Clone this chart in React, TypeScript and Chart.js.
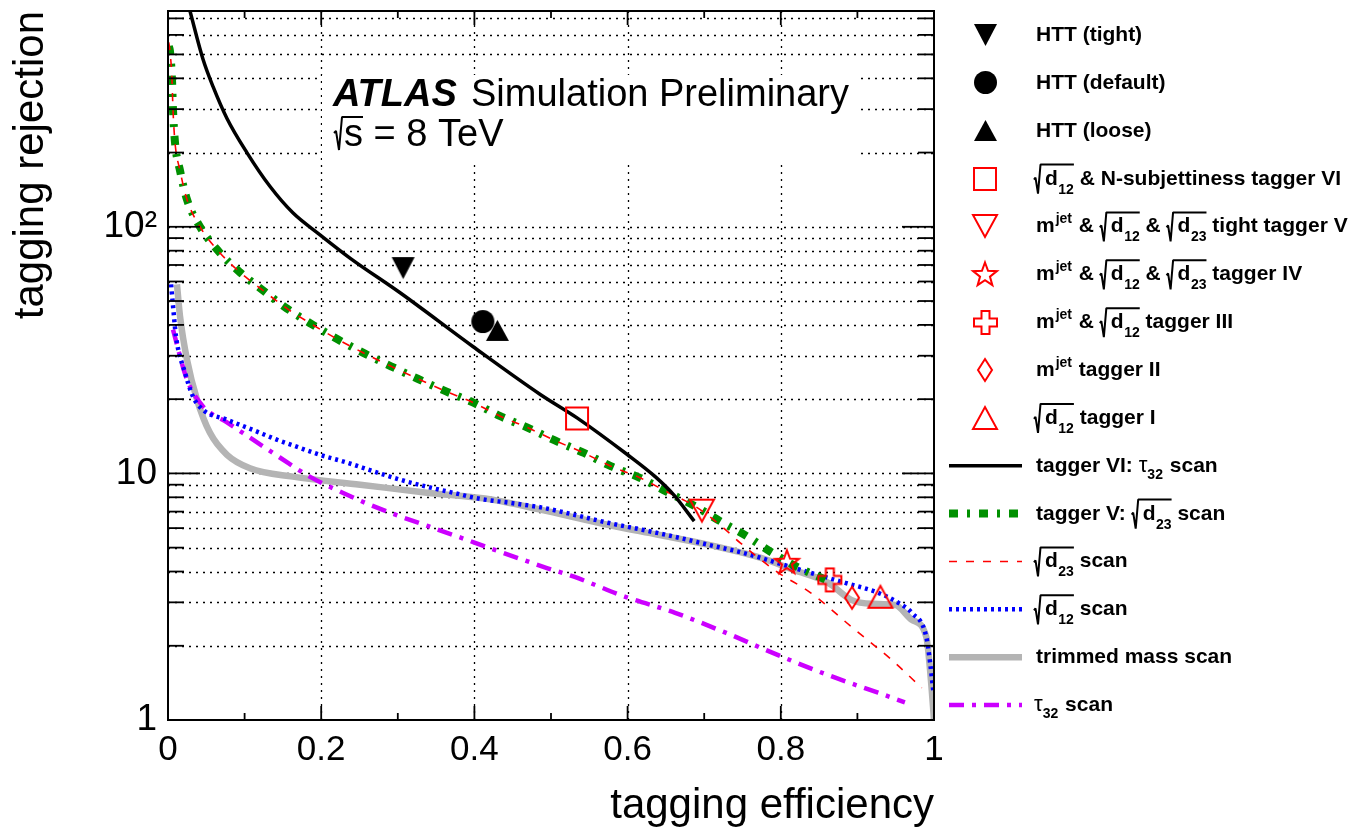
import React, { useEffect, useRef } from 'react';
import { Chart, registerables } from 'chart.js';

Chart.register(...registerables);

const FONT = '"Liberation Sans", Arial, Helvetica, sans-serif';

// ---------- axes ----------
const xMin = 0;
const xMax = 1;
const yMin = 1;
const yMax = 750;
const xTickValues = [0, 0.2, 0.4, 0.6, 0.8, 1];
const xTickLabels = ['0', '0.2', '0.4', '0.6', '0.8', '1'];
const xMinorTicks = [0.1, 0.3, 0.5, 0.7, 0.9];
const xGridValues = [0.2, 0.4, 0.6, 0.8];
const yTickValues = [1, 10, 100];
const yTickLabels = ['1', '10', '10²'];
const yMinorTicks = [2, 3, 4, 5, 6, 7, 8, 9, 20, 30, 40, 50, 60, 70, 80, 90, 200, 300, 400, 500, 600, 700];
const yGridValues = [2, 3, 4, 5, 6, 7, 8, 9, 10, 20, 30, 40, 50, 60, 70, 80, 90, 100, 200, 300, 400, 500, 600, 700];
const xTitle = 'tagging efficiency';
const yTitle = 'tagging rejection';

// ---------- working points ----------
const httTightEff = [0.307];
const httTightRej = [68];
const httDefaultEff = [0.411];
const httDefaultRej = [41.3];
const httLooseEff = [0.43];
const httLooseRej = [38];
const taggerVIEff = [0.534];
const taggerVIRej = [16.7];
const taggerVEff = [0.697];
const taggerVRej = [7.06];
const taggerIVEff = [0.808];
const taggerIVRej = [4.38];
const taggerIIIEff = [0.864];
const taggerIIIRej = [3.7];
const taggerIIEff = [0.893];
const taggerIIRej = [3.13];
const taggerIEff = [0.93];
const taggerIRej = [3.16];

// ---------- scans ----------
const tau32VIEff = [0.024, 0.0287, 0.0457, 0.0587, 0.077, 0.103, 0.133, 0.163, 0.198, 0.238, 0.303, 0.398, 0.486, 0.534, 0.6, 0.636, 0.66, 0.687];
const tau32VIRej = [850, 750, 478, 371, 275, 200, 146, 114, 93, 74.5, 54, 32.7, 20.9, 16.8, 11.9, 9.7, 8.2, 6.4];

const d23VEff = [0.001, 0.0026, 0.0052, 0.0065, 0.009, 0.0157, 0.0248, 0.0418, 0.0653, 0.0927, 0.124, 0.155, 0.188, 0.222, 0.257, 0.292, 0.326, 0.363, 0.398, 0.433, 0.47, 0.505, 0.543, 0.578, 0.616, 0.651, 0.687, 0.722, 0.755, 0.789, 0.821, 0.859];
const d23VRej = [540, 515, 397, 300, 222, 169, 129, 100, 80, 65.9, 55.2, 46.7, 40.2, 34.9, 30.6, 27.1, 24.2, 21.5, 19.4, 17.1, 15.3, 13.6, 12.1, 10.7, 9.6, 8.43, 7.39, 6.37, 5.58, 4.76, 4.18, 3.7];

const d23Eff = [0.001, 0.0026, 0.0052, 0.0065, 0.009, 0.0157, 0.0248, 0.0418, 0.0653, 0.0927, 0.124, 0.155, 0.188, 0.222, 0.257, 0.292, 0.326, 0.363, 0.398, 0.433, 0.47, 0.505, 0.543, 0.578, 0.616, 0.651, 0.687, 0.722, 0.747, 0.795, 0.839, 0.892, 0.945, 0.984];
const d23Rej = [560, 515, 397, 300, 222, 169, 129, 100, 80, 65.9, 55.2, 46.7, 40.2, 34.9, 30.6, 27.1, 24.2, 21.5, 19.4, 17.1, 15.3, 13.6, 12.1, 10.7, 9.6, 8.43, 7.39, 6.13, 5.23, 3.99, 3.28, 2.39, 1.75, 1.35];

const d12Eff = [0.004, 0.0065, 0.0104, 0.0222, 0.0326, 0.0457, 0.077, 0.111, 0.142, 0.172, 0.198, 0.234, 0.268, 0.303, 0.338, 0.372, 0.407, 0.446, 0.49, 0.53, 0.574, 0.619, 0.662, 0.706, 0.751, 0.795, 0.839, 0.884, 0.927, 0.954, 0.971, 0.99, 0.995, 0.999];
const d12Rej = [58.4, 48, 36, 25.6, 20.5, 18.1, 16.5, 15.0, 13.7, 12.7, 11.9, 11.05, 10.2, 9.43, 8.83, 8.35, 7.89, 7.6, 7.25, 6.8, 6.31, 5.91, 5.53, 5.13, 4.76, 4.34, 3.95, 3.6, 3.28, 2.98, 2.72, 2.17, 1.7, 1.32];

const trimEff = [0.0117, 0.0157, 0.0248, 0.0379, 0.0548, 0.077, 0.107, 0.163, 0.251, 0.338, 0.424, 0.486, 0.574, 0.64, 0.706, 0.773, 0.817, 0.862, 0.892, 0.919, 0.949, 0.971, 0.99, 0.996, 1.0];
const trimRej = [58.4, 43.3, 28.9, 19.9, 14.6, 11.9, 10.5, 9.7, 9.0, 8.35, 7.82, 7.13, 6.19, 5.64, 5.13, 4.55, 4.06, 3.6, 3.07, 2.96, 2.93, 2.55, 2.17, 1.45, 1.0];

const tau32Eff = [0.0065, 0.0248, 0.0457, 0.077, 0.111, 0.146, 0.185, 0.228, 0.273, 0.368, 0.49, 0.53, 0.597, 0.662, 0.728, 0.795, 0.862, 0.927, 0.962];
const tau32Rej = [38.3, 24, 18.7, 16.1, 13.7, 11.6, 9.7, 8.35, 7.26, 5.69, 4.18, 3.81, 3.16, 2.72, 2.26, 1.84, 1.52, 1.29, 1.18];

// ---------- legend ----------
const legendLabels = [
  'HTT (tight)',
  'HTT (default)',
  'HTT (loose)',
  '√{12} & N-subjettiness tagger VI',
  'm^{jet} & √{12} & √{23} tight tagger V',
  'm^{jet} & √{12} & √{23} tagger IV',
  'm^{jet} & √{12} tagger III',
  'm^{jet} tagger II',
  '√{12} tagger I',
  'tagger VI: τ_{32} scan',
  'tagger V: √{23} scan',
  '√{23} scan',
  '√{12} scan',
  'trimmed mass scan',
  'τ_{32} scan',
];

const RED = '#ff0000';
const GREEN = '#009000';
const BLUE = '#0000ff';
const GRAY = '#b4b4b4';
const MAGENTA = '#cc00ff';

const pts = (xs: number[], ys: number[]) => xs.map((x, i) => ({ x, y: ys[i] }));

type Draw = (g: CanvasRenderingContext2D, w: number, h: number) => void;
function mk(w: number, h: number, draw: Draw): HTMLCanvasElement {
  const c = document.createElement('canvas');
  c.width = w + 4;
  c.height = h + 4;
  const g = c.getContext('2d')!;
  g.translate(2, 2);
  draw(g, w, h);
  return c;
}

function makeMarkers() {
  const poly = (g: CanvasRenderingContext2D, p: number[][]) => {
    g.beginPath();
    p.forEach(([x, y], i) => (i ? g.lineTo(x, y) : g.moveTo(x, y)));
    g.closePath();
  };
  const fillBlack = (g: CanvasRenderingContext2D) => { g.fillStyle = '#000'; g.fill(); };
  const strokeRed = (g: CanvasRenderingContext2D) => { g.strokeStyle = RED; g.lineWidth = 2; g.lineJoin = 'miter'; g.stroke(); };
  const triDown = mk(23, 22, (g, w, h) => { poly(g, [[0, 0], [w, 0], [w / 2, h]]); fillBlack(g); });
  const circle = mk(23, 23, (g, w) => { g.beginPath(); g.arc(w / 2, w / 2, w / 2, 0, Math.PI * 2); fillBlack(g); });
  const triUp = mk(23, 21, (g, w, h) => { poly(g, [[0, h], [w, h], [w / 2, 0]]); fillBlack(g); });
  const square = mk(24, 24, (g, w, h) => { poly(g, [[1, 1], [w - 1, 1], [w - 1, h - 1], [1, h - 1]]); strokeRed(g); });
  const oTriDown = mk(26, 24, (g, w, h) => { poly(g, [[1, 1], [w - 1, 1], [w / 2, h - 1]]); strokeRed(g); });
  const star = mk(26, 26, (g, w, h) => {
    const p: number[][] = [];
    for (let i = 0; i < 10; i++) {
      const r = i % 2 === 0 ? 12.5 : 5.2;
      const a = -Math.PI / 2 + (i * Math.PI) / 5;
      p.push([w / 2 + r * Math.cos(a), h / 2 + 1 + r * Math.sin(a)]);
    }
    poly(g, p);
    strokeRed(g);
  });
  const cross = mk(25, 25, (g, w) => {
    const c = w / 2, a = 4, L = 11.5;
    poly(g, [[c - a, c - L], [c + a, c - L], [c + a, c - a], [c + L, c - a], [c + L, c + a], [c + a, c + a], [c + a, c + L], [c - a, c + L], [c - a, c + a], [c - L, c + a], [c - L, c - a], [c - a, c - a]]);
    strokeRed(g);
  });
  const diamond = mk(16, 24, (g, w, h) => { poly(g, [[w / 2, 1], [w - 1, h / 2], [w / 2, h - 1], [1, h / 2]]); strokeRed(g); });
  const oTriUp = mk(26, 24, (g, w, h) => { poly(g, [[1, h - 1], [w - 1, h - 1], [w / 2, 1]]); strokeRed(g); });
  return { triDown, circle, triUp, square, oTriDown, star, cross, diamond, oTriUp };
}

function drawRich(ctx: CanvasRenderingContext2D, str: string, x0: number, base: number) {
  const bold = `bold 21px ${FONT}`;
  const small = `bold 14px ${FONT}`;
  const greek = `22px ${FONT}`;
  const tokens = str.split(/(\^\{[^}]*\}|_\{[^}]*\}|√\{[^}]*\})/).filter((s) => s.length);
  let cx = x0;
  ctx.textBaseline = 'alphabetic';
  ctx.textAlign = 'left';
  ctx.fillStyle = '#000';
  ctx.strokeStyle = '#000';
  for (const t of tokens) {
    if (t.startsWith('^{')) {
      const s = t.slice(2, -1);
      ctx.font = small;
      ctx.fillText(s, cx + 1, base - 9);
      cx += ctx.measureText(s).width + 2;
    } else if (t.startsWith('_{')) {
      const s = t.slice(2, -1);
      ctx.font = small;
      ctx.fillText(s, cx, base + 7);
      cx += ctx.measureText(s).width + 1;
    } else if (t.startsWith('√{')) {
      const s = t.slice(2, -1);
      ctx.font = bold;
      const dw = ctx.measureText('d').width;
      ctx.font = small;
      const sw = ctx.measureText(s).width;
      const dx = cx + 11;
      const end = dx + dw + sw + 0.5;
      ctx.save();
      ctx.beginPath();
      ctx.lineWidth = 2;
      ctx.lineJoin = 'bevel';
      ctx.moveTo(cx, base - 5);
      ctx.lineTo(cx + 1.5, base - 7);
      ctx.lineTo(cx + 4, base + 9);
      ctx.lineTo(cx + 6.5, base - 20);
      ctx.lineTo(end, base - 20);
      ctx.stroke();
      ctx.restore();
      ctx.font = bold;
      ctx.fillText('d', dx, base);
      ctx.font = small;
      ctx.fillText(s, dx + dw + 0.5, base + 9);
      cx = end;
    } else {
      for (const p of t.split(/(τ)/)) {
        if (!p) continue;
        ctx.font = p === 'τ' ? greek : bold;
        ctx.fillText(p, cx, base);
        cx += ctx.measureText(p).width;
      }
    }
  }
}

type LineStyle = { color: string; width: number; dash: number[] };
const lineStyles: Record<string, LineStyle> = {
  tau32VI: { color: '#000', width: 3.5, dash: [] },
  d23V: { color: GREEN, width: 8, dash: [9, 9, 3, 9] },
  d23: { color: RED, width: 1.6, dash: [8, 9] },
  d12: { color: BLUE, width: 4.5, dash: [3, 4] },
  trim: { color: GRAY, width: 6.5, dash: [] },
  tau32: { color: MAGENTA, width: 4.5, dash: [15, 8, 4, 8] },
};

export default function App() {
  const ref = useRef<HTMLCanvasElement>(null);

  useEffect(() => {
    const m = makeMarkers();
    const legendSymbols: (HTMLCanvasElement | LineStyle)[] = [
      m.triDown, m.circle, m.triUp, m.square, m.oTriDown, m.star, m.cross, m.diamond, m.oTriUp,
      lineStyles.tau32VI, lineStyles.d23V, lineStyles.d23, lineStyles.d12, lineStyles.trim, lineStyles.tau32,
    ];

    const markerDs = (label: string, xs: number[], ys: number[], style: HTMLCanvasElement) => ({
      label,
      data: pts(xs, ys),
      showLine: false,
      pointStyle: style,
      pointRadius: 10,
      pointHoverRadius: 10,
      clip: 0,
    });
    const lineDs = (label: string, xs: number[], ys: number[], s: LineStyle) => ({
      label,
      data: pts(xs, ys),
      borderColor: s.color,
      borderWidth: s.width,
      borderDash: s.dash,
      borderCapStyle: 'butt',
      pointRadius: 0,
      pointHoverRadius: 0,
      fill: false,
      cubicInterpolationMode: 'monotone',
      clip: 0,
    });

    const gridPlugin = {
      id: 'rootGrid',
      beforeDatasetsDraw(chart: any) {
        const { ctx, chartArea: a, scales } = chart;
        const x = scales.x, y = scales.y;
        ctx.save();
        ctx.strokeStyle = '#000';
        ctx.lineWidth = 1.3;
        ctx.setLineDash([2, 5]);
        for (const v of xGridValues) {
          const px = Math.round(x.getPixelForValue(v)) + 0.5;
          ctx.beginPath(); ctx.moveTo(px, a.bottom); ctx.lineTo(px, a.top); ctx.stroke();
        }
        for (const v of yGridValues) {
          const py = Math.round(y.getPixelForValue(v)) + 0.5;
          ctx.beginPath(); ctx.moveTo(a.left, py); ctx.lineTo(a.right, py); ctx.stroke();
        }
        ctx.setLineDash([]);
        // white pave behind the ATLAS label
        ctx.fillStyle = '#fff';
        ctx.fillRect(322, 75, 536, 88);
        ctx.restore();
      },
      afterDatasetsDraw(chart: any) {
        const { ctx, chartArea: a, scales } = chart;
        const x = scales.x, y = scales.y;
        ctx.save();
        ctx.strokeStyle = '#000';
        ctx.setLineDash([]);
        ctx.lineWidth = 1.8;
        const seg = (x1: number, y1: number, x2: number, y2: number) => {
          ctx.beginPath(); ctx.moveTo(x1, y1); ctx.lineTo(x2, y2); ctx.stroke();
        };
        for (const v of xTickValues) {
          const px = x.getPixelForValue(v);
          seg(px, a.bottom, px, a.bottom - 14);
          seg(px, a.top, px, a.top + 14);
        }
        for (const v of xMinorTicks) {
          const px = x.getPixelForValue(v);
          seg(px, a.bottom, px, a.bottom - 7);
          seg(px, a.top, px, a.top + 7);
        }
        for (const v of yTickValues) {
          const py = y.getPixelForValue(v);
          seg(a.left, py, a.left + 32, py);
          seg(a.right, py, a.right - 32, py);
        }
        for (const v of yMinorTicks) {
          const py = y.getPixelForValue(v);
          seg(a.left, py, a.left + 16, py);
          seg(a.right, py, a.right - 16, py);
        }
        ctx.lineWidth = 2;
        ctx.strokeRect(a.left, a.top, a.right - a.left, a.bottom - a.top);
        ctx.restore();
      },
      afterDraw(chart: any) {
        const { ctx } = chart;
        ctx.save();
        // ATLAS label
        ctx.fillStyle = '#000';
        ctx.textBaseline = 'alphabetic';
        ctx.textAlign = 'left';
        ctx.font = `italic bold 38px ${FONT}`;
        ctx.fillText('ATLAS', 333, 106);
        ctx.font = `38px ${FONT}`;
        ctx.fillText('Simulation Preliminary', 471, 106);
        ctx.strokeStyle = '#000';
        ctx.lineWidth = 2;
        ctx.lineJoin = 'bevel';
        ctx.beginPath();
        ctx.moveTo(334, 133);
        ctx.lineTo(336, 131);
        ctx.lineTo(339, 150);
        ctx.lineTo(342, 117);
        ctx.lineTo(363, 117);
        ctx.stroke();
        ctx.fillText('s = 8 TeV', 344, 146);

        // legend
        const rowStep = 47.86;
        legendLabels.forEach((lab, i) => {
          const cy = 35 + rowStep * i;
          const sym = legendSymbols[i];
          if (sym instanceof HTMLCanvasElement) {
            ctx.drawImage(sym, Math.round(985 - sym.width / 2), Math.round(cy - sym.height / 2));
          } else {
            ctx.save();
            ctx.strokeStyle = sym.color;
            ctx.lineWidth = sym.width;
            ctx.setLineDash(sym.dash);
            ctx.lineCap = 'butt';
            ctx.beginPath();
            ctx.moveTo(949, cy);
            ctx.lineTo(1022, cy);
            ctx.stroke();
            ctx.restore();
          }
          const startsRadical = lab.startsWith('√') || lab.startsWith('τ');
          drawRich(ctx, lab, startsRadical ? 1034 : 1036, cy + 6);
        });
        ctx.restore();
      },
    };

    const chart = new Chart(ref.current!, {
      type: 'line',
      data: {
        datasets: [
          markerDs('HTT (tight)', httTightEff, httTightRej, m.triDown),
          markerDs('HTT (default)', httDefaultEff, httDefaultRej, m.circle),
          markerDs('HTT (loose)', httLooseEff, httLooseRej, m.triUp),
          markerDs('tagger VI', taggerVIEff, taggerVIRej, m.square),
          markerDs('tagger V', taggerVEff, taggerVRej, m.oTriDown),
          markerDs('tagger IV', taggerIVEff, taggerIVRej, m.star),
          markerDs('tagger III', taggerIIIEff, taggerIIIRej, m.cross),
          markerDs('tagger II', taggerIIEff, taggerIIRej, m.diamond),
          markerDs('tagger I', taggerIEff, taggerIRej, m.oTriUp),
          lineDs('tagger VI: tau32 scan', tau32VIEff, tau32VIRej, lineStyles.tau32VI),
          lineDs('sqrt(d23) scan', d23Eff, d23Rej, lineStyles.d23),
          lineDs('tagger V: sqrt(d23) scan', d23VEff, d23VRej, lineStyles.d23V),
          lineDs('sqrt(d12) scan', d12Eff, d12Rej, lineStyles.d12),
          lineDs('tau32 scan', tau32Eff, tau32Rej, lineStyles.tau32),
          lineDs('trimmed mass scan', trimEff, trimRej, lineStyles.trim),
        ] as any,
      },
      options: {
        responsive: false,
        animation: false,
        devicePixelRatio: 1,
        events: [],
        layout: { padding: { left: 0, top: 11, right: 415, bottom: 0 } },
        plugins: { legend: { display: false }, tooltip: { enabled: false } },
        scales: {
          x: {
            type: 'linear',
            min: xMin,
            max: xMax,
            grid: { display: false, drawTicks: false },
            border: { display: false },
            afterBuildTicks: (s: any) => { s.ticks = xTickValues.map((v) => ({ value: v })); },
            afterFit: (s: any) => { s.height = 115; s.paddingLeft = 0; s.paddingRight = 0; },
            ticks: {
              autoSkip: false,
              maxRotation: 0,
              color: '#000',
              padding: 9,
              font: { family: FONT, size: 35 },
              callback: (_v: any, i: number) => xTickLabels[i],
            },
            title: {
              display: true,
              text: xTitle,
              align: 'end',
              color: '#000',
              font: { family: FONT, size: 42 },
              padding: { top: 0, bottom: 3 },
            },
          },
          y: {
            type: 'logarithmic',
            min: yMin,
            max: yMax,
            grid: { display: false, drawTicks: false },
            border: { display: false },
            afterBuildTicks: (s: any) => { s.ticks = yTickValues.map((v) => ({ value: v, major: true })); },
            afterFit: (s: any) => { s.width = 168; s.paddingTop = 0; s.paddingBottom = 0; },
            ticks: {
              autoSkip: false,
              color: '#000',
              padding: 11,
              font: { family: FONT, size: 37 },
              callback: (_v: any, i: number) => yTickLabels[i],
            },
            title: {
              display: true,
              text: yTitle,
              align: 'end',
              color: '#000',
              font: { family: FONT, size: 42 },
              padding: { top: 6, bottom: 0 },
            },
          },
        },
      } as any,
      plugins: [gridPlugin],
    });
    return () => chart.destroy();
  }, []);

  return (
    <div style={{ position: 'fixed', left: 0, top: 0, width: 1349, height: 835, background: '#fff' }}>
      <canvas ref={ref} width={1349} height={835} style={{ display: 'block', width: 1349, height: 835 }} />
    </div>
  );
}
